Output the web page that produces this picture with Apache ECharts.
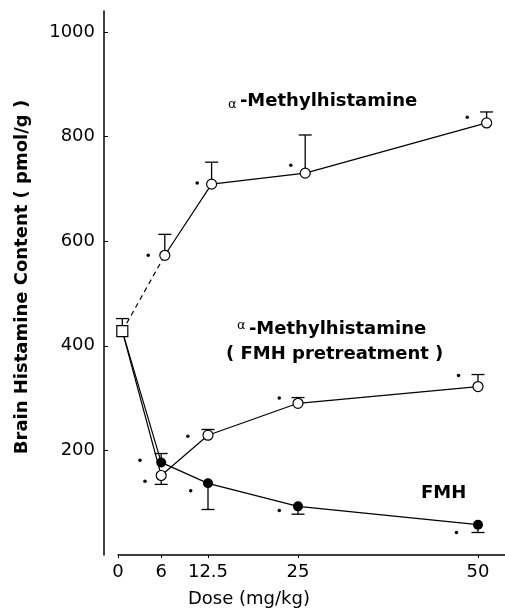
<!DOCTYPE html>
<html>
<head>
<meta charset="utf-8">
<script src="https://cdn.jsdelivr.net/npm/echarts@6/dist/echarts.min.js"></script>
<style>
  html, body { margin: 0; padding: 0; background: #fff; }
  #chart { width: 505px; height: 611px; }
</style>
</head>
<body>
<div id="chart"></div>
<script>
// control (saline) point, shared by all three curves
const controlDose = 0.6
const controlMean = 428
const controlErr = 452

// alpha-methylhistamine alone
const amhDose = [6.5, 13, 26, 51.2]
const amhMean = [573, 709, 730, 826]
const amhErr = [613, 751, 803, 847]

// alpha-methylhistamine after FMH pretreatment
const pretDose = [6, 12.5, 25, 50]
const pretMean = [152, 229, 290, 322]
const pretErr = [135, 240, 301, 345]

// FMH alone
const fmhDose = [6, 12.5, 25, 50]
const fmhMean = [177, 137, 93, 58]
const fmhErr = [194, 87, 78, 43]

// significance dots (*)
const starDose = [4.2, 11, 24, 48.5, 3.75, 9.7, 22.4, 47.3, 3.05, 10.1, 22.4, 47]
const starValue = [573, 711, 745, 837, 141, 227, 300, 343, 181, 123, 85, 43]

const xTicks = [0, 6, 12.5, 25, 50]
const yTicks = [200, 400, 600, 800, 1000]

const pairs = (xs, ys) => xs.map((x, i) => [x, ys[i]])
const bars = (xs, ys, es) => xs.map((x, i) => [x, ys[i], es[i]])

const font = 'DejaVu Sans'
const chart = echarts.init(document.getElementById('chart'))

function errorBar (params, api) {
  const p1 = api.coord([api.value(0), api.value(1)])
  const p2 = api.coord([api.value(0), api.value(2)])
  const st = { stroke: '#000', lineWidth: 1.3 }
  return {
    type: 'group',
    children: [
      { type: 'line', shape: { x1: p1[0], y1: p1[1], x2: p2[0], y2: p2[1] }, style: st },
      { type: 'line', shape: { x1: p2[0] - 6.5, y1: p2[1], x2: p2[0] + 6.5, y2: p2[1] }, style: st }
    ]
  }
}

const openSym = { color: '#fff', borderColor: '#000', borderWidth: 1.2, opacity: 1 }
const lineSt = { color: '#000', width: 1.2 }

const option = {
  animation: false,
  backgroundColor: '#fff',
  grid: { left: 118, right: 0, top: 11, bottom: 56, outerBoundsMode: 'none' },
  xAxis: {
    type: 'value',
    min: 0,
    max: 53.75,
    axisLine: { onZero: false, lineStyle: { color: '#000', width: 1.5 } },
    axisTick: { show: true, length: 3, customValues: xTicks, lineStyle: { color: '#000' } },
    axisLabel: { customValues: xTicks, color: '#000', fontFamily: font, fontSize: 18, margin: 8 },
    splitLine: { show: false }
  },
  yAxis: {
    type: 'value',
    min: 0,
    max: 1040,
    offset: 14,
    axisLine: { show: true, onZero: false, lineStyle: { color: '#000', width: 1.5 } },
    axisTick: { show: true, inside: true, length: 4, customValues: yTicks, lineStyle: { color: '#000' } },
    axisLabel: {
      customValues: yTicks, color: '#000', fontFamily: font, fontSize: 18, margin: 9,
      formatter: v => String(v)
    },
    splitLine: { show: false },
    name: 'Brain Histamine Content ( pmol/g )',
    nameLocation: 'middle',
    nameGap: 73,
    nameTextStyle: { color: '#000', fontFamily: font, fontSize: 18, fontWeight: 'bold', padding: [0, 0, 0, 12] }
  },
  graphic: [
    {
      type: 'text', left: 228, top: 92,
      style: {
        text: '{a|α} {b|-Methylhistamine}',
        rich: {
          a: { fontFamily: font, fontSize: 13, fill: '#000', verticalAlign: 'bottom', padding: [8, 0, 0, 0] },
          b: { fontFamily: font, fontSize: 18, fontWeight: 'bold', fill: '#000' }
        }
      }
    },
    {
      type: 'text', left: 237, top: 319,
      style: {
        text: '{a|α} {b|-Methylhistamine}',
        rich: {
          a: { fontFamily: font, fontSize: 13, fill: '#000', padding: [0, 0, 8, 0] },
          b: { fontFamily: font, fontSize: 18, fontWeight: 'bold', fill: '#000' }
        }
      }
    },
    {
      type: 'text', left: 226, top: 345,
      style: { text: '( FMH pretreatment )', fontFamily: font, fontSize: 18, fontWeight: 'bold', fill: '#000' }
    },
    {
      type: 'text', left: 421, top: 484,
      style: { text: 'FMH', fontFamily: font, fontSize: 18, fontWeight: 'bold', fill: '#000' }
    },
    {
      type: 'text', left: 188, top: 590,
      style: { text: 'Dose (mg/kg)', fontFamily: font, fontSize: 18, fill: '#000' }
    }
  ],
  series: [
    {
      type: 'custom', renderItem: errorBar, z: 1,
      data: [[controlDose, controlMean, controlErr]]
        .concat(bars(amhDose, amhMean, amhErr))
        .concat(bars(pretDose, pretMean, pretErr))
        .concat(bars(fmhDose, fmhMean, fmhErr))
    },
    {
      type: 'line', z: 2, symbol: 'none',
      lineStyle: { color: '#000', width: 1.2, type: [5, 4] },
      data: [[controlDose, controlMean], [amhDose[0], amhMean[0]]]
    },
    {
      type: 'line', z: 3, symbol: 'circle', symbolSize: 10,
      itemStyle: openSym, lineStyle: lineSt,
      data: pairs(amhDose, amhMean)
    },
    {
      type: 'line', z: 3, symbol: 'circle', symbolSize: 10,
      itemStyle: openSym, lineStyle: lineSt,
      data: [[controlDose, controlMean]].concat(pairs(pretDose, pretMean))
    },
    {
      type: 'line', z: 4, symbol: 'circle', symbolSize: 10,
      itemStyle: { color: '#000' }, lineStyle: lineSt,
      data: [[controlDose, controlMean]].concat(pairs(fmhDose, fmhMean))
    },
    {
      type: 'scatter', z: 5, symbol: 'rect', symbolSize: 11,
      itemStyle: openSym,
      data: [[controlDose, controlMean]]
    },
    {
      type: 'scatter', z: 5, symbol: 'circle', symbolSize: 3.5,
      itemStyle: { color: '#000', opacity: 1 },
      data: pairs(starDose, starValue)
    }
  ]
}

chart.setOption(option)
</script>
</body>
</html>
